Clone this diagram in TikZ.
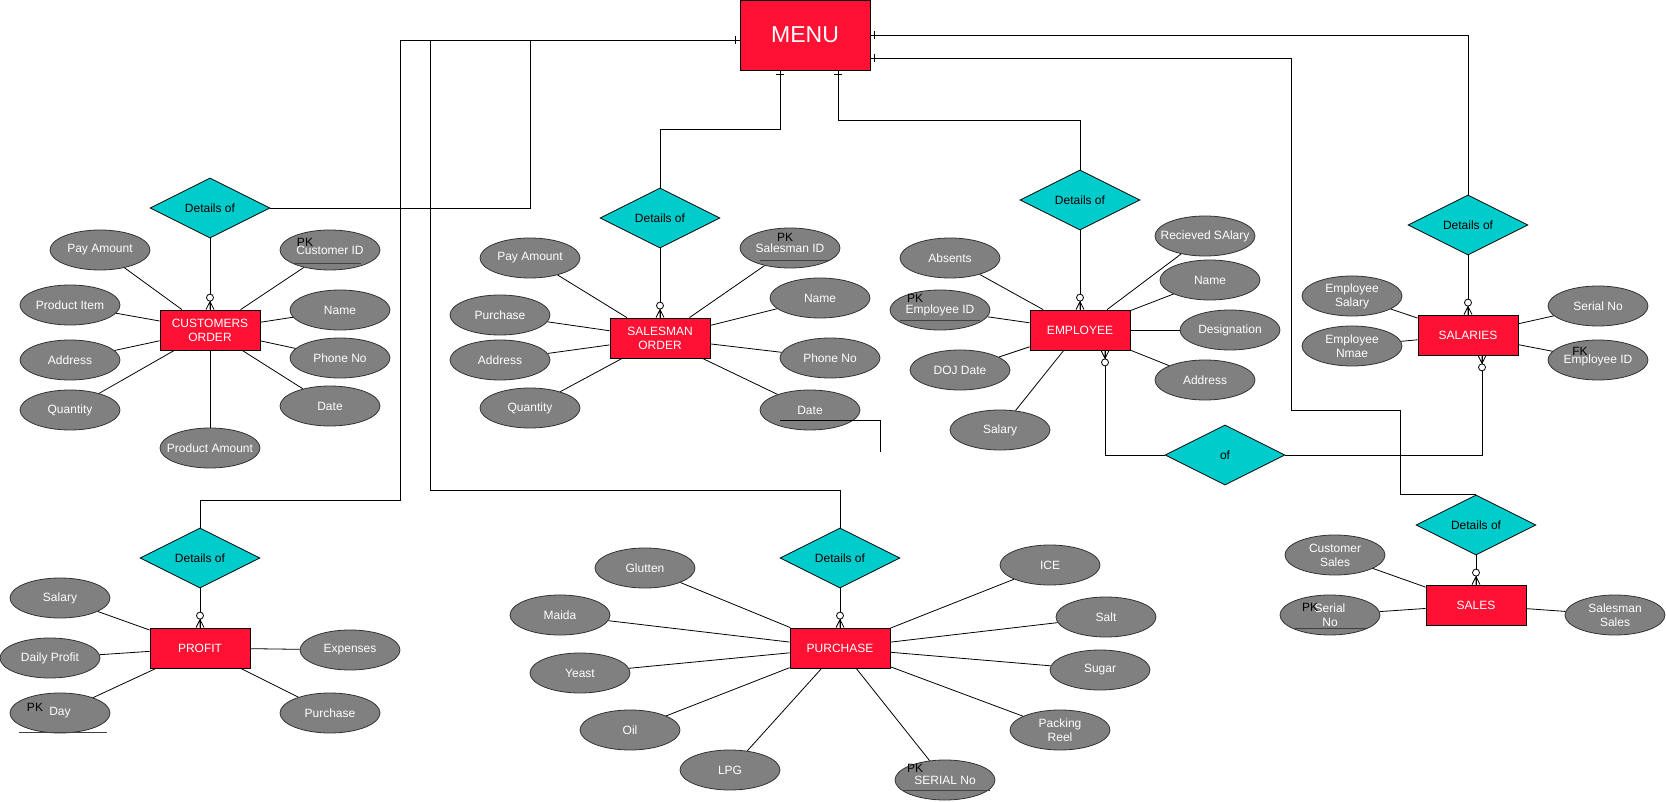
\documentclass[tikz,border=0pt]{standalone}
\usepackage{fontspec}
\setmainfont{Liberation Sans}
\usetikzlibrary{shapes.geometric,decorations.markings}
\definecolor{entred}{HTML}{FF1133}
\definecolor{relcyan}{HTML}{00CCCC}
\definecolor{attrgray}{HTML}{808080}

\begin{document}
\begin{tikzpicture}[x=1pt,y=-1pt,line width=0.8pt,
	every node/.style={font=\fontsize{12}{14}\selectfont},
	entity/.style={rectangle,draw,fill=entred,text=white,minimum width=100pt,minimum height=40pt,align=center,inner sep=1pt},
	attr/.style={ellipse,draw=black!80,fill=attrgray,text=white,minimum width=100pt,minimum height=40pt,inner xsep=-15pt,inner ysep=-6pt,align=center},
	rel/.style={diamond,draw,fill=relcyan,aspect=2,minimum width=120pt,minimum height=60pt,inner sep=0pt},
	keytag/.style={inner sep=0pt},
	keyline/.style={draw=black!75},
	one end/.style={postaction={decorate,decoration={markings,mark=at position 1 with {\draw[line width=0.8pt] (-4pt,-4pt) -- (-4pt,4pt);}}}},
	many end/.style={postaction={decorate,decoration={markings,mark=at position 1 with {\draw[line width=0.8pt] (-8pt,0pt) -- (0pt,4pt) (-8pt,0pt) -- (0pt,-4pt) (-8pt,0pt) -- (0pt,0pt); \draw[line width=0.8pt,fill=white] (-12pt,0pt) circle[radius=3.5pt];}}}}]
	\useasboundingbox (0,0) rectangle (1666,802);

	\node[entity,minimum width=130pt,minimum height=70pt,font=\fontsize{23}{26}\selectfont] (menu) at (805,35) {MENU};

	% customers order
	\node[entity] (cord) at (210,330) {CUSTOMERS\\ORDER};
	\node[rel] (cdet) at (210,208) {Details of};
	\node[attr] (cpay) at (100,250) {Pay Amount};
	\node[attr] (citem) at (70,305) {Product Item};
	\node[attr] (caddr) at (70,360) {Address};
	\node[attr] (cqty) at (70,410) {Quantity};
	\node[attr] (camt) at (210,448) {Product Amount};
	\node[attr] (cid) at (330,250) {Customer ID};
	\node[attr] (cname) at (340,310) {Name};
	\node[attr] (cphone) at (340,358) {Phone No};
	\node[attr] (cdate) at (330,406) {Date};
	\node[keytag] (cidpk) at (305,242) {PK};
	\draw[keyline] ([shift={(-37,13)}]cid.center) -- ++(68,0);
	\path (cord) edge (cpay) edge (citem) edge (caddr) edge (cqty) edge (camt)
	edge (cid) edge (cname) edge (cphone) edge (cdate);

	% salesman order
	\node[entity] (sord) at (660,338) {SALESMAN\\ORDER};
	\node[rel] (sdet) at (660,218) {Details of};
	\node[attr] (spay) at (530,258) {Pay Amount};
	\node[attr] (spur) at (500,315) {Purchase};
	\node[attr] (saddr) at (500,360) {Address};
	\node[attr] (sqty) at (530,408) {Quantity};
	\node[attr] (sid) at (790,248) {Salesman ID};
	\node[attr] (sname) at (820,298) {Name};
	\node[attr] (sphone) at (830,358) {Phone No};
	\node[attr] (sdate) at (810,410) {Date};
	\node[keytag] (sidpk) at (785,237) {PK};
	\draw[keyline] ([shift={(-30,12)}]sid.center) -- ++(70,0);
	\path (sord) edge (spay) edge (spur) edge (saddr) edge (sqty)
	edge (sid) edge (sname) edge (sphone) edge (sdate);
	\coordinate (sdatetail) at (880,452);
	\draw ([shift={(-30,10)}]sdate.center) -| (sdatetail);

	% employee
	\node[entity] (emp) at (1080,330) {EMPLOYEE};
	\node[rel] (edet) at (1080,200) {Details of};
	\node[attr] (eabs) at (950,258) {Absents};
	\node[attr] (eid) at (940,310) {Employee ID};
	\node[attr] (edoj) at (960,370) {DOJ Date};
	\node[attr] (esal) at (1000,430) {Salary};
	\node[attr] (erec) at (1205,236) {Recieved SAlary};
	\node[attr] (ename) at (1210,280) {Name};
	\node[attr] (edes) at (1230,330) {Designation};
	\node[attr] (eaddr) at (1205,380) {Address};
	\node[keytag] (eidpk) at (915,298) {PK};
	\draw[keyline] ([shift={(-40,10)}]eid.center) -- ++(80,0);
	\path (emp) edge (eabs) edge (eid) edge (edoj) edge (esal)
	edge (erec) edge (ename) edge (edes) edge (eaddr);
	\node[rel] (empof) at (1225,455) {of};

	% salaries
	\node[entity] (sal) at (1468,335) {SALARIES};
	\node[rel] (saldet) at (1468,225) {Details of};
	\node[attr] (slsal) at (1352,296) {Employee\\Salary};
	\node[attr] (slname) at (1352,346) {Employee\\Nmae};
	\node[attr] (slser) at (1598,306) {Serial No};
	\node[attr] (slid) at (1598,360) {Employee ID};
	\node[keytag] (slidfk) at (1580,351) {FK};
	\path (sal) edge (slsal) edge (slname) edge (slser) edge (slid);

	% profit
	\node[entity] (prof) at (200,648) {PROFIT};
	\node[rel] (pdet) at (200,558) {Details of};
	\node[attr] (psal) at (60,598) {Salary};
	\node[attr] (pdaily) at (50,658) {Daily Profit};
	\node[attr] (pday) at (60,713) {Day};
	\node[attr] (pexp) at (350,650) {Expenses};
	\node[attr] (ppur) at (330,713) {Purchase};
	\node[keytag] (pdaypk) at (35,707) {PK};
	\draw[keyline] ([shift={(-41,19)}]pday.center) -- ++(88,0);
	\path (prof) edge (psal) edge (pdaily) edge (pday) edge (pexp) edge (ppur);

	% purchase
	\node[entity] (pur) at (840,648) {PURCHASE};
	\node[rel] (purdet) at (840,558) {Details of};
	\node[attr] (uglu) at (645,568) {Glutten};
	\node[attr] (umaida) at (560,615) {Maida};
	\node[attr] (uyeast) at (580,673) {Yeast};
	\node[attr] (uoil) at (630,730) {Oil};
	\node[attr] (ulpg) at (730,770) {LPG};
	\node[attr] (userial) at (945,780) {SERIAL No};
	\node[attr] (uice) at (1050,565) {ICE};
	\node[attr] (usalt) at (1106,617) {Salt};
	\node[attr] (usugar) at (1100,670) {Sugar};
	\node[attr] (ureel) at (1060,730) {Packing\\Reel};
	\node[keytag] (userialpk) at (915,768) {PK};
	\draw[keyline] ([shift={(-43,10)}]userial.center) -- ++(88,0);
	\path (pur) edge (uglu) edge (umaida) edge (uyeast) edge (uoil) edge (ulpg)
	edge (userial) edge (uice) edge (usalt) edge (usugar) edge (ureel);

	% sales
	\node[entity] (sales) at (1476,605) {SALES};
	\node[rel] (salesdet) at (1476,525) {Details of};
	\node[attr] (sacust) at (1335,555) {Customer\\Sales};
	\node[attr] (saser) at (1330,615) {Serial\\No};
	\node[attr] (saman) at (1615,615) {Salesman\\Sales};
	\node[keytag] (saserpk) at (1310,607) {PK};
	\draw[keyline] ([shift={(-35,13)}]saser.center) -- ++(71,0);
	\path (sales) edge (sacust) edge (saser) edge (saman);

	% relationships
	\draw[many end] (cdet) -- (cord);
	\draw[many end] (sdet) -- (sord);
	\draw[many end] (edet) -- (emp);
	\draw[many end] (saldet) -- (sal);
	\draw[many end] (pdet) -- (prof);
	\draw[many end] (purdet) -- (pur);
	\draw[many end] (salesdet) -- (sales);
	\draw[many end] (empof.west) -| ([xshift=25pt]emp.south);
	\draw[many end] (empof.east) -| ([xshift=14pt]sal.south);

	\draw[one end] (cdet.east) -| (530,40) -- ([yshift=-5pt]menu.west);
	\draw[one end] (pdet.north) |- (400,500) -- (400,40) -- ([yshift=-5pt]menu.west);
	\draw[one end] (purdet.north) |- (430,490) -- (430,40) -- ([yshift=-5pt]menu.west);
	\draw[one end] (sdet.north) |- (780,129) -- ([xshift=-25pt]menu.south);
	\draw[one end] (edet.north) |- (838,120) -- ([xshift=33pt]menu.south);
	\draw[one end] (saldet.north) |- (menu.east);
	\draw[one end] (salesdet.north) -| (1400,410) -| (1291,58) -- ([yshift=-23pt]menu.east);
\end{tikzpicture}
\end{document}
